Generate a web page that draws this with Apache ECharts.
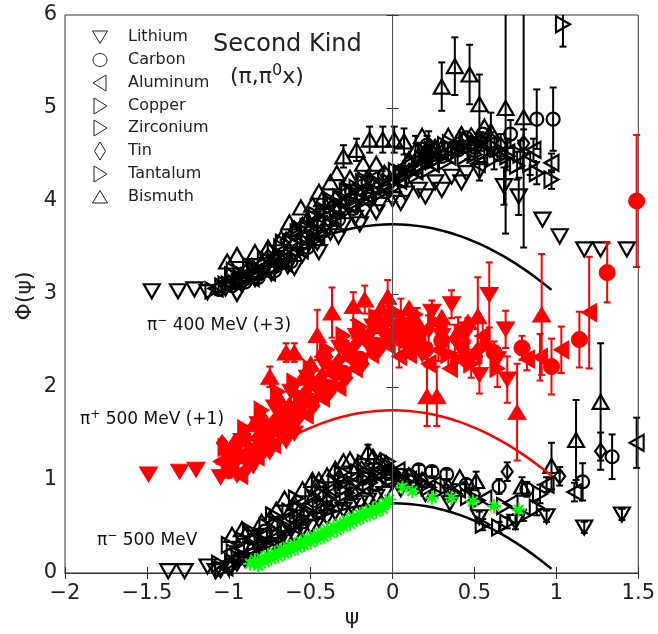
<!DOCTYPE html>
<html><head><meta charset="utf-8">
<script src="https://cdn.jsdelivr.net/npm/echarts@6/dist/echarts.min.js"></script>
<style>html,body{margin:0;padding:0;background:#fff}#c{width:658px;height:634px}</style>
</head><body><div id="c"></div>
<script>
// ---------- DATA ----------
const materials = ['Lithium','Carbon','Aluminum','Copper','Zirconium','Tin','Tantalum','Bismuth'];
const xTicks = [-2,-1.5,-1,-0.5,0,0.5,1,1.5];
const yTicks = [0,1,2,3,4,5,6];

// pi- 400 MeV (+3), points [psi, Phi, err]
const pim400_Lithium = [[-1.47,3.03],[-1.31,3.03],[-1.21,3.05],[-1.13,3.02],[-1.02,3.06],[-0.92,3.1],[-0.84,3.16],[-0.74,3.22],[-0.64,3.3],[-0.55,3.42],[-0.46,3.55],[-0.38,3.66],[-0.3,3.74],[-0.23,3.82],[-0.17,3.89],[-0.08,3.96],[0.0,4.02],[0.08,4.08],[0.16,4.12],[0.26,4.2],[0.36,4.26],[0.45,4.3],[0.53,4.32,0.1],[0.68,4.16,0.2],[0.77,4.05,0.2],[0.915,3.8],[1.02,3.62],[1.17,3.48],[1.27,3.48],[1.43,3.48],
  [-0.95,3.0],[-0.6,3.28],[-0.45,3.45],[-0.33,3.62],[-0.2,3.75],[-0.1,3.88],[0.05,3.98],[0.2,4.05],[0.3,4.12],[0.42,4.2]];
const pim400_Carbon = [[-1.06,3.05],[-0.98,3.09],[-0.9,3.13],[-0.82,3.18],[-0.72,3.25],[-0.62,3.35],[-0.52,3.5],[-0.42,3.68],[-0.33,3.8],[-0.24,3.92],[-0.14,4.02],[-0.04,4.1],[0.06,4.22],[0.14,4.35],[0.21,4.6,0.1],[0.3,4.48],[0.4,4.55],[0.5,4.58],[0.6,4.64,0.1],[0.72,4.72,0.15],[0.88,4.88,0.32],[0.98,4.88,0.34],
  [-0.85,3.25],[-0.7,3.38],[-0.55,3.6],[-0.45,3.78],[-0.35,3.95],[-0.25,4.1],[-0.15,4.2],[-0.05,4.28],[0.1,4.4],[0.25,4.5],[0.45,4.68],[0.55,4.72],[0.65,4.5]];
const pim400_Aluminum = [[-1.08,3.06],[-0.96,3.12],[-0.86,3.17],[-0.76,3.23],[-0.66,3.33],[-0.56,3.47],[-0.46,3.62],[-0.36,3.8],[-0.26,3.95],[-0.16,4.06],[-0.06,4.14],[0.04,4.22],[0.14,4.32],[0.24,4.4],[0.34,4.48],[0.46,4.55,0.1],[0.58,4.6,0.12],[0.7,4.52,0.15],[0.86,4.55,0.12],[0.97,4.41,0.1],
  [-0.9,3.26],[-0.8,3.32],[-0.6,3.62],[-0.5,3.76],[-0.4,3.92],[-0.3,4.08],[-0.2,4.18],[-0.1,4.26],[0.08,4.38],[0.2,4.48],[0.38,4.62],[0.52,4.4]];
const pim400_Copper = [[-1.1,3.04],[-1.0,3.1],[-0.88,3.15],[-0.78,3.22],[-0.68,3.3],[-0.58,3.44],[-0.48,3.58],[-0.38,3.76],[-0.28,3.9],[-0.18,4.0],[-0.08,4.08],[0.02,4.16],[0.12,4.26],[0.22,4.34],[0.32,4.42],[0.44,4.48],[0.56,4.52,0.1],[0.7,4.48,0.15],[0.84,4.4,0.12],[0.97,4.23,0.1],[1.04,5.9,0.24],
  [-0.93,3.22],[-0.72,3.45],[-0.62,3.55],[-0.52,3.72],[-0.42,3.9],[-0.32,4.04],[-0.22,4.14],[-0.12,4.22],[0.05,4.3],[0.18,4.45],[0.36,4.55],[0.5,4.62]];
const pim400_Zirconium = [[-1.04,3.08],[-0.94,3.13],[-0.84,3.2],[-0.74,3.27],[-0.64,3.37],[-0.54,3.52],[-0.44,3.66],[-0.34,3.84],[-0.24,3.98],[-0.14,4.08],[-0.04,4.16],[0.06,4.26],[0.16,4.36],[0.26,4.44],[0.38,4.52],[0.5,4.5,0.1],[0.62,4.46,0.12],[0.76,4.38,0.15],[0.88,4.3,0.12],
  [-0.98,3.2],[-0.78,3.38],[-0.68,3.5],[-0.58,3.66],[-0.48,3.82],[-0.38,3.98],[-0.28,4.1],[-0.18,4.2],[0.02,4.32],[0.2,4.52],[0.32,4.6],[0.45,4.66]];
const pim400_Tin = [[-1.0,3.12],[-0.9,3.17],[-0.8,3.24],[-0.7,3.32],[-0.6,3.44],[-0.5,3.6],[-0.4,3.76],[-0.3,3.94],[-0.2,4.06],[-0.1,4.14],[0.0,4.22],[0.1,4.32],[0.2,4.42],[0.3,4.52],[0.42,4.6],[0.54,4.64,0.1],[0.66,4.6,0.12],[0.8,4.62,0.15],
  [-0.86,3.3],[-0.76,3.4],[-0.65,3.58],[-0.55,3.74],[-0.45,3.88],[-0.35,4.02],[-0.15,4.25],[-0.05,4.3],[0.15,4.46],[0.26,4.58],[0.48,4.7]];
const pim400_Tantalum = [[-1.02,3.1],[-0.92,3.16],[-0.82,3.22],[-0.72,3.3],[-0.62,3.4],[-0.52,3.55],[-0.42,3.72],[-0.32,3.9],[-0.22,4.04],[-0.12,4.12],[-0.02,4.2],[0.08,4.3],[0.18,4.4],[0.28,4.46],[0.4,4.56],[0.52,4.62,0.1],[0.64,4.56,0.12],[0.78,4.5,0.15],
  [-0.97,3.25],[-0.87,3.3],[-0.67,3.55],[-0.57,3.7],[-0.47,3.85],[-0.37,4.0],[-0.27,4.12],[-0.17,4.22],[0.12,4.42],[0.24,4.55],[0.35,4.62]];
const pim400_Bismuth = [[-1.01,3.35],[-0.95,3.42],[-0.88,3.3],[-0.8,3.34],[-0.72,3.42],[-0.68,3.6],[-0.63,3.77],[-0.56,3.93],[-0.49,3.96],[-0.43,4.02],[-0.38,4.2],[-0.3,4.48,0.12],[-0.22,4.55,0.12],[-0.14,4.66,0.14],[-0.06,4.66,0.14],[0.01,4.66,0.14],[0.07,4.64,0.14],[0.14,4.55,0.15],[0.22,4.6,0.15],[0.3,5.23,0.26],[0.38,5.45,0.31],[0.47,5.36,0.32],[0.53,5.04,0.32],[0.6,4.75,0.2],[0.69,5.0,1.35],[0.8,4.9,1.4],
  [-0.93,3.2],[-0.84,3.45],[-0.76,3.5],[-0.6,3.7],[-0.52,3.8],[-0.45,4.1],[-0.34,4.3],[-0.26,4.25],[-0.18,4.4],[-0.1,4.4],[0.1,4.45],[0.18,4.7],[0.26,4.55],[0.34,4.7],[0.42,4.72],[0.56,4.8]];

// pi+ 500 MeV (+1)
const pip500_Lithium = [[-1.49,1.06],[-1.3,1.09],[-1.2,1.11],[-1.05,1.03],[-0.95,1.2],[-0.85,1.3],[-0.75,1.45],[-0.65,1.6],[-0.55,1.78],[-0.45,1.95],[-0.35,2.1],[-0.25,2.3],[-0.15,2.45],[-0.05,2.55],[0.03,2.6,0.12],[0.12,2.62,0.12],[0.24,2.81,0.12],[0.36,2.89,0.15],[0.46,2.62,0.12],[0.59,2.99,0.35],[0.69,2.62,0.2],[0.53,2.13,0.2],[0.7,2.08,0.25],
  [-1.0,1.3],[-0.92,1.42],[-0.82,1.6],[-0.72,1.78],[-0.62,1.95],[-0.52,2.1],[-0.42,2.25],[-0.32,2.42],[-0.22,2.55],[-0.12,2.65],[0.08,2.45],[0.18,2.35],[0.3,2.55],[0.42,2.4],[0.64,2.3],
  [-0.95,1.05],[-0.85,1.15],[-0.75,1.3],[-0.65,1.42],[-0.6,1.5]];
const pip500_Carbon = [[-0.9,1.25],[-0.7,1.55],[-0.5,1.85],[-0.3,2.15],[-0.1,2.45],[0.1,2.5,0.12],[0.3,2.5,0.12],[0.62,2.37,0.12],[0.79,2.42,0.13],[0.97,2.22,0.3],[1.14,2.51,0.3],[1.31,3.23,0.32],[1.49,4.0,0.71],
  [-1.0,1.1],[-0.8,1.4],[-0.6,1.7],[-0.4,2.0],[-0.2,2.3],[0.0,2.55],[0.2,2.4],[0.45,2.3]];
const pip500_Aluminum = [[-1.0,1.15],[-0.88,1.3],[-0.78,1.5],[-0.68,1.68],[-0.58,1.82],[-0.48,2.0],[-0.38,2.15],[-0.28,2.32],[-0.18,2.5],[-0.08,2.62],[0.04,2.33,0.12],[0.15,2.55,0.12],[0.28,2.4,0.12],[0.42,2.45,0.15],[0.55,2.55,0.15],[0.82,2.3,0.12],[0.9,2.32,0.25],[1.03,2.4,0.25],[1.2,2.8,0.6],
  [-1.05,1.2],[-0.93,1.05],[-0.83,1.25],[-0.73,1.38],[-0.63,1.55],[-0.53,1.7],[-0.43,1.88],[-0.33,2.0],[-0.23,2.2],[-0.13,2.35],[-0.03,2.45],[0.1,2.35],[0.22,2.25],[0.35,2.2],[0.5,2.35]];
const pip500_Copper = [[-0.98,1.18],[-0.86,1.35],[-0.76,1.55],[-0.66,1.72],[-0.56,1.9],[-0.46,2.05],[-0.36,2.22],[-0.26,2.4],[-0.16,2.55],[-0.06,2.68],[0.08,2.58,0.12],[0.2,2.45,0.15],[0.34,2.35,0.15],[0.48,2.25,0.15],[0.64,2.2,0.2],
  [-1.02,1.35],[-0.9,1.55],[-0.8,1.75],[-0.7,1.95],[-0.6,2.05],[-0.5,2.2],[-0.4,2.4],[-0.3,2.55],[-0.2,2.65],[-0.1,2.75],[0.02,2.8],[0.14,2.78],[0.26,2.7],[0.4,2.3],[0.58,2.45]];
const pip500_Tin = [[-0.95,1.28],[-0.83,1.45],[-0.73,1.62],[-0.63,1.8],[-0.53,1.95],[-0.43,2.12],[-0.33,2.28],[-0.23,2.45],[-0.13,2.6],[-0.03,2.72,0.15],[0.1,2.7,0.15],[0.22,2.62,0.15],[0.38,2.52,0.15],[0.52,2.4,0.15],
  [-1.04,1.4],[-0.9,1.1],[-0.78,1.32],[-0.68,1.5],[-0.58,1.65],[-0.48,1.8],[-0.38,1.95],[-0.28,2.1],[-0.18,2.25],[-0.08,2.4],[0.05,2.5],[0.16,2.5],[0.3,2.65],[0.45,2.6]];
const pip500_Bismuth = [[-1.02,1.25],[-0.9,1.5],[-0.8,1.7],[-0.75,2.11,0.11],[-0.7,1.9],[-0.65,2.37,0.1],[-0.6,2.37,0.1],[-0.55,2.1],[-0.46,2.56,0.27],[-0.37,2.8,0.27],[-0.24,2.87,0.15],[-0.17,2.94,0.15],[-0.1,2.7,0.12],[-0.03,2.97,0.18],[0.05,2.75,0.2],[0.15,2.7,0.15],[0.21,1.9,0.32],[0.27,1.9,0.32],[0.4,2.6,0.15],[0.52,2.76,0.42],[0.76,1.73,0.52],[0.91,2.78,0.65],
  [-0.97,1.4],[-0.85,1.6],[-0.68,1.75],[-0.5,2.25],[-0.42,2.4],[-0.3,2.5],[-0.2,2.6],[-0.07,2.85],[0.1,2.85],[0.3,2.75],[0.46,2.7]];

// pi- 500 MeV
const pim500_Lithium = [[-1.37,0.02],[-1.27,0.02],[-1.13,0.07],[-1.05,0.03],[-0.95,0.1],[-0.85,0.18],[-0.75,0.27],[-0.65,0.37],[-0.55,0.47],[-0.45,0.57],[-0.35,0.65],[-0.25,0.72],[-0.15,0.78],[-0.05,0.85],[0.05,0.9],[0.2,0.85],[0.35,0.75],[0.53,0.6,0.06],[0.75,0.55,0.08],[0.94,0.61,0.06],[1.17,0.49,0.06],[1.4,0.63,0.06],
  [-1.08,0.02],[-1.0,0.05],[-0.9,0.14],[-0.8,0.2],[-0.7,0.3],[-0.6,0.4],[-0.5,0.5],[-0.4,0.6],[-0.3,0.68],[-0.2,0.75],[-0.1,0.82]];
const pim500_Carbon = [[-1.0,0.08],[-0.85,0.25],[-0.7,0.4],[-0.55,0.55],[-0.4,0.7],[-0.25,0.85],[-0.1,0.95],[0.05,1.05],[0.16,1.11,0.05],[0.24,1.09,0.05],[0.33,1.06,0.05],[0.45,0.95,0.06],[0.65,0.93,0.08],[0.82,0.9,0.08],[1.16,0.98,0.2],[1.34,1.25,0.24],
  [-0.92,0.3],[-0.78,0.45],[-0.62,0.62],[-0.48,0.78],[-0.32,0.92],[-0.18,1.02],[-0.03,1.08],[0.1,1.05]];
const pim500_Aluminum = [[-1.02,0.06],[-0.88,0.2],[-0.74,0.35],[-0.6,0.5],[-0.46,0.65],[-0.32,0.8],[-0.18,0.92],[-0.04,1.0],[0.1,1.0],[0.25,0.95],[0.4,0.9],[0.56,0.8],[0.72,0.75],[0.94,0.95,0.08],[1.11,0.87,0.1],[1.49,1.4,0.27],
  [-0.95,0.25],[-0.81,0.4],[-0.67,0.56],[-0.53,0.72],[-0.39,0.88],[-0.25,1.0],[-0.11,1.08],[0.03,1.1]];
const pim500_Copper = [[-1.04,0.04],[-0.9,0.16],[-0.78,0.3],[-0.64,0.45],[-0.5,0.6],[-0.36,0.75],[-0.22,0.88],[-0.08,0.96],[0.08,0.98],[0.22,0.92],[0.38,0.85],[0.55,0.52,0.06],[0.7,0.54,0.06],[0.88,0.7,0.08],
  [-0.97,0.22],[-0.84,0.38],[-0.71,0.52],[-0.57,0.68],[-0.43,0.84],[-0.29,0.98],[-0.15,1.06],[0.0,1.08]];
const pim500_Zirconium = [[-0.98,0.12],[-0.84,0.28],[-0.7,0.42],[-0.56,0.58],[-0.42,0.72],[-0.28,0.86],[-0.14,0.97],[0.0,1.02],[0.14,0.98],[0.3,0.9],[0.46,0.82],[0.65,0.49,0.06],[0.8,0.62,0.06],
  [-1.06,0.1],[-0.91,0.35],[-0.77,0.5],[-0.63,0.66],[-0.49,0.82],[-0.35,0.96],[-0.21,1.08],[-0.07,1.12]];
const pim500_Tin = [[-0.96,0.14],[-0.82,0.3],[-0.68,0.46],[-0.54,0.62],[-0.4,0.78],[-0.26,0.92],[-0.12,1.02],[0.02,1.05],[0.18,1.0],[0.34,0.92],[0.5,0.85],[0.7,1.09,0.1],[1.02,1.04,0.1],[1.27,1.31,0.2],
  [-0.89,0.42],[-0.75,0.58],[-0.61,0.72],[-0.47,0.88],[-0.33,1.02],[-0.19,1.12],[-0.05,1.15]];
const pim500_Tantalum = [[-0.94,0.2],[-0.8,0.35],[-0.66,0.5],[-0.52,0.66],[-0.38,0.82],[-0.24,0.96],[-0.1,1.05],[0.04,1.02],[0.2,0.95],[0.36,0.88],[0.52,0.78],[0.68,0.72],[0.9,0.85,0.1],
  [-1.0,0.3],[-0.87,0.45],[-0.73,0.62],[-0.59,0.8],[-0.45,0.95],[-0.31,1.08],[-0.17,1.18],[-0.03,1.2]];
const pim500_Bismuth = [[-0.98,0.41],[-0.92,0.47],[-0.85,0.4],[-0.71,0.68],[-0.6,0.75],[-0.49,1.0],[-0.4,1.05],[-0.3,1.2],[-0.22,1.15],[-0.15,1.3,0.08],[-0.08,1.2],[0.0,1.1],[0.1,1.05],[0.41,1.03],[0.51,0.99,0.1],[0.79,0.93,0.1],[0.97,1.15,0.25],[1.12,1.43,0.43],[1.27,1.84,0.63],
  [-0.8,0.55],[-0.66,0.8],[-0.55,0.9],[-0.45,1.0],[-0.35,1.12],[-0.26,1.22],[-0.12,1.25],[-0.04,1.18]];
const pim500_green = [[-0.87,0.1],[-0.84,0.14],[-0.82,0.08],[-0.8,0.16],[-0.78,0.12],[-0.76,0.19],[-0.74,0.15],[-0.72,0.22],[-0.7,0.18],[-0.68,0.25],[-0.66,0.21],[-0.64,0.28],[-0.62,0.24],[-0.6,0.31],[-0.58,0.27],[-0.56,0.34],[-0.54,0.3],[-0.52,0.37],[-0.5,0.33],[-0.48,0.4],[-0.46,0.36],[-0.44,0.43],[-0.42,0.39],[-0.4,0.47],[-0.38,0.43],[-0.36,0.5],[-0.34,0.46],[-0.32,0.53],[-0.3,0.5],[-0.28,0.57],[-0.26,0.53],[-0.24,0.6],[-0.22,0.57],[-0.2,0.63],[-0.18,0.6],[-0.16,0.66],[-0.14,0.63],[-0.12,0.69],[-0.1,0.66],[-0.08,0.72],[-0.06,0.69],[-0.04,0.75],[-0.02,0.79],[0.06,0.92],[0.12,0.88],[0.24,0.81],[0.36,0.81],[0.49,0.77],[0.62,0.72],[0.77,0.68]];

// theory curves
const psiCurve = [-0.97,-0.9,-0.8,-0.7,-0.6,-0.5,-0.4,-0.3,-0.2,-0.1,0,0.1,0.2,0.3,0.4,0.5,0.6,0.7,0.8,0.9,0.97];
const curve400 = [3.044,3.1425,3.27,3.3825,3.48,3.5625,3.63,3.6825,3.72,3.7425,3.75,3.7425,3.72,3.6825,3.63,3.5625,3.48,3.3825,3.27,3.1425,3.044];
const curve500p = [1.044,1.1425,1.27,1.3825,1.48,1.5625,1.63,1.6825,1.72,1.7425,1.75,1.7425,1.72,1.6825,1.63,1.5625,1.48,1.3825,1.27,1.1425,1.044];
const curve500m = [0.044,0.1425,0.27,0.3825,0.48,0.5625,0.63,0.6825,0.72,0.7425,0.75,0.7425,0.72,0.6825,0.63,0.5625,0.48,0.3825,0.27,0.1425,0.044];

// ---------- STYLE ----------
const FONT = 'DejaVu Sans';
const SYM = {
  down: 'path://M0,0L10,0L5,8.66Z',
  up: 'path://M5,0L10,8.66L0,8.66Z',
  left: 'path://M0,5L8.66,0L8.66,10Z',
  right: 'path://M0,0L8.66,5L0,10Z',
  diamond: 'path://M5,0L10,7L5,14L0,7Z',
  circle: 'circle'
};
const matSym = {Lithium:'down',Carbon:'circle',Aluminum:'left',Copper:'right',Zirconium:'right',Tin:'diamond',Tantalum:'right',Bismuth:'up'};
const symSize = {down:[16,14],up:[16,14],left:[14,16],right:[14,16],diamond:[11,15],circle:[13,13]};
const symSizeFilled = {down:[18,15],up:[18,15],left:[15,18],right:[15,18],diamond:[12,16],circle:[16,16]};

const groups = [
  {key:'pim400', color:'#000', filled:false, z:3, sets:{Lithium:pim400_Lithium,Carbon:pim400_Carbon,Aluminum:pim400_Aluminum,Copper:pim400_Copper,Zirconium:pim400_Zirconium,Tin:pim400_Tin,Tantalum:pim400_Tantalum,Bismuth:pim400_Bismuth}},
  {key:'pip500', color:'#ff0000', filled:true, z:5, sets:{Lithium:pip500_Lithium,Carbon:pip500_Carbon,Aluminum:pip500_Aluminum,Copper:pip500_Copper,Tin:pip500_Tin,Bismuth:pip500_Bismuth}},
  {key:'pim500', color:'#000', filled:false, z:3, sets:{Lithium:pim500_Lithium,Carbon:pim500_Carbon,Aluminum:pim500_Aluminum,Copper:pim500_Copper,Zirconium:pim500_Zirconium,Tin:pim500_Tin,Tantalum:pim500_Tantalum,Bismuth:pim500_Bismuth}}
];

function errSeries(data, color, z) {
  return {
    type:'custom', z:z, silent:true,
    data: data.filter(d => d.length > 2 && d[2] > 0),
    renderItem: function(params, api) {
      const x = api.value(0), y = api.value(1), e = api.value(2);
      const cs = params.coordSys;
      const top = api.coord([x, y + e]);
      const bot = api.coord([x, y - e]);
      const yMin = cs.y, yMax = cs.y + cs.height;
      const t = Math.max(top[1], yMin), b = Math.min(bot[1], yMax);
      const st = {stroke: color, lineWidth: 2};
      const ch = [{type:'line', shape:{x1:top[0], y1:t, x2:top[0], y2:b}, style:st}];
      const hw = 3.5;
      if (top[1] >= yMin) ch.push({type:'line', shape:{x1:top[0]-hw, y1:top[1], x2:top[0]+hw, y2:top[1]}, style:st});
      if (bot[1] <= yMax) ch.push({type:'line', shape:{x1:bot[0]-hw, y1:bot[1], x2:bot[0]+hw, y2:bot[1]}, style:st});
      return {type:'group', children:ch};
    }
  };
}

const series = [];
series.push({type:'line', data:[[0,0],[0,6]], showSymbol:false, silent:true, z:9,
  lineStyle:{color:'#555', width:1}});

groups.forEach((g) => {
  Object.keys(g.sets).forEach(m => {
    const data = g.sets[m];
    const s = matSym[m];
    series.push(errSeries(data, g.color, g.z));
    series.push({
      type:'scatter', name: g.key + ' ' + m, z: g.z, silent:true,
      data: data.map(d => [d[0], d[1]]),
      symbol: SYM[s],
      symbolSize: g.filled ? symSizeFilled[s] : symSize[s],
      itemStyle: g.filled ? {color:g.color, borderColor:g.color, borderWidth:1, opacity:1}
                          : {color:'none', borderColor:g.color, borderWidth:2.2, opacity:1}
    });
  });
});

series.push({
  type:'scatter', z:6, silent:true,
  data: pim500_green,
  symbol:'path://M0,-10L0,10M-10,0L10,0M-7,-7L7,7M-7,7L7,-7',
  symbolSize:14,
  itemStyle:{color:'none', borderColor:'#00ff00', borderWidth:2, opacity:1}
});

[[curve400,'#000'],[curve500p,'#ff0000'],[curve500m,'#000']].forEach(([c,col]) => {
  series.push({type:'line', z:4, silent:true, showSymbol:false, smooth:true,
    data: psiCurve.map((x,i) => [x, c[i]]),
    lineStyle:{color:col, width:2.5}});
});

const fmt = v => (v < 0 ? '\u2212' + Math.abs(v) : String(v));
const axisCommon = {
  axisLine:{show:true, lineStyle:{color:'#333', width:1}},
  axisTick:{show:true, inside:true, length:6, lineStyle:{color:'#333'}},
  splitLine:{show:false}
};

const legendRows = [37, 60, 83, 106, 128, 151, 174, 197];
const lx = 100;
function legendShape(kind, cy) {
  const st = {fill:'none', stroke:'#222', lineWidth:1};
  if (kind === 'circle') return {type:'ellipse', shape:{cx:lx, cy:cy, rx:7, ry:6.5}, style:st};
  let pts;
  if (kind === 'down') pts = [[lx-7.5,cy-6],[lx+7.5,cy-6],[lx,cy+6.5]];
  if (kind === 'up') pts = [[lx-7.5,cy+6],[lx+7.5,cy+6],[lx,cy-6.5]];
  if (kind === 'left') pts = [[lx-7,cy],[lx+6,cy-8],[lx+6,cy+8]];
  if (kind === 'right') pts = [[lx+7,cy],[lx-6,cy-8],[lx-6,cy+8]];
  if (kind === 'diamond') pts = [[lx,cy-9],[lx+5.5,cy],[lx,cy+9],[lx-5.5,cy]];
  return {type:'polygon', shape:{points:pts}, style:st};
}
const graphics = [];
materials.forEach((m, i) => {
  graphics.push(legendShape(matSym[m], legendRows[i]));
  graphics.push({type:'text', style:{text:m, x:128, y:legendRows[i], font:'16px "DejaVu Sans"', fill:'#222', textAlign:'left', textVerticalAlign:'middle'}});
});
const supRich = {s:{fontSize:12, fontFamily:FONT, fill:'#111', padding:[0,0,11,0]}, n:{fontSize:17, fontFamily:FONT, fill:'#111'}};
graphics.push({type:'text', style:{text:'Second Kind', x:213, y:45, fontSize:24, fontFamily:FONT, fill:'#222', textAlign:'left', textVerticalAlign:'middle'}});
graphics.push({type:'text', style:{text:'{n|(\u03c0,\u03c0}{s|0}{n|x)}', x:230, y:77, textAlign:'left', textVerticalAlign:'middle',
  rich:{n:{fontSize:22, fontFamily:FONT, fill:'#222'}, s:{fontSize:16, fontFamily:FONT, fill:'#222', padding:[0,0,13,0]}}}});
graphics.push({type:'text', style:{text:'{n|\u03c0}{s|\u2212}{n| 400 MeV (+3)}', x:147, y:326, textAlign:'left', textVerticalAlign:'middle', rich:supRich}});
graphics.push({type:'text', style:{text:'{n|\u03c0}{s|+}{n| 500 MeV (+1)}', x:80, y:420, textAlign:'left', textVerticalAlign:'middle', rich:supRich}});
graphics.push({type:'text', style:{text:'{n|\u03c0}{s|\u2212}{n| 500 MeV}', x:97, y:541, textAlign:'left', textVerticalAlign:'middle', rich:supRich}});
graphics.push({type:'text', x:25, y:296, rotation:Math.PI/2, style:{text:'\u03a6(\u03c8)', x:0, y:0, fontSize:22, fontFamily:FONT, fill:'#222', textAlign:'center', textVerticalAlign:'middle'}});
graphics.push({type:'text', style:{text:'\u03c8', x:352, y:618, fontSize:22, fontFamily:FONT, fill:'#222', textAlign:'center', textVerticalAlign:'middle'}});

const chart = echarts.init(document.getElementById('c'), null, {renderer:'canvas'});
chart.setOption({
  animation:false,
  backgroundColor:'#fff',
  grid:{left:65, right:18, top:15, bottom:61, show:true, borderColor:'#333', borderWidth:1, backgroundColor:'transparent'},
  xAxis:[
    Object.assign({type:'value', min:xTicks[0], max:xTicks[xTicks.length-1], interval:0.5, position:'bottom',
      axisLabel:{formatter:fmt, fontSize:21, fontFamily:FONT, color:'#222', margin:10}}, axisCommon),
    Object.assign({type:'value', min:xTicks[0], max:xTicks[xTicks.length-1], interval:0.5, position:'top',
      axisLabel:{show:false}}, axisCommon)
  ],
  yAxis:[
    Object.assign({type:'value', min:yTicks[0], max:yTicks[yTicks.length-1], interval:1, position:'left',
      axisLabel:{formatter:fmt, fontSize:21, fontFamily:FONT, color:'#222', margin:8}}, axisCommon),
    Object.assign({type:'value', min:yTicks[0], max:yTicks[yTicks.length-1], interval:1, position:'right',
      axisLabel:{show:false}}, axisCommon)
  ],
  series: series,
  graphic: graphics
});
</script>
</body></html>
